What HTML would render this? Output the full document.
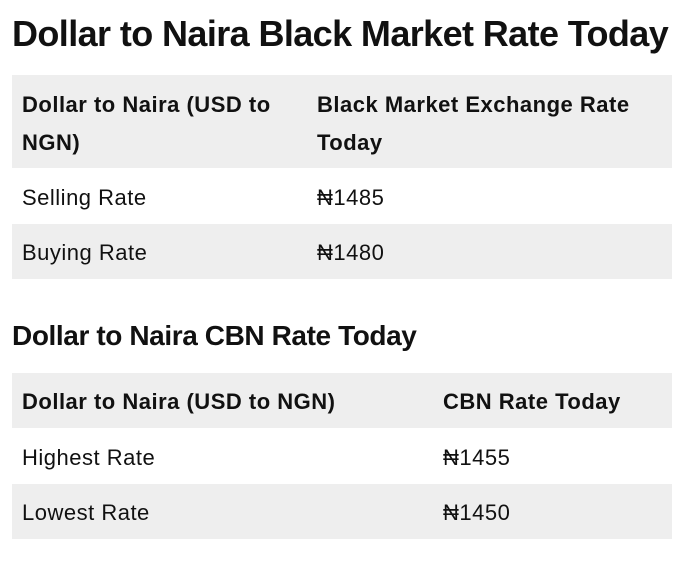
<!DOCTYPE html>
<html><head><meta charset="utf-8"><style>
body{margin:0;width:679px;height:563px;background:#fff;font-family:"Liberation Sans","DejaVu Sans",sans-serif;color:#111;position:relative;overflow:hidden}
.a{position:absolute;white-space:nowrap}
.g{position:absolute;left:12px;width:660px;background:#eeeeee}
h1{position:absolute;margin:0;left:12px;top:13px;font-size:36px;font-weight:bold;letter-spacing:-0.6px}
h2{position:absolute;margin:0;left:12px;top:320px;font-size:28px;font-weight:bold;letter-spacing:-0.4px}
.b{font-weight:bold}
.t{font-size:22px;line-height:38px;letter-spacing:0.5px}
</style></head><body>
<h1>Dollar to Naira Black Market Rate Today</h1>
<div class="g" style="top:75px;height:93px"></div>
<div class="g" style="top:224px;height:55px"></div>
<div class="a t b" style="left:22px;top:86px">Dollar to Naira (USD to<br>NGN)</div>
<div class="a t b" style="left:317px;top:86px">Black Market Exchange Rate<br>Today</div>
<div class="a t" style="left:22px;top:179px">Selling Rate</div>
<div class="a t" style="left:317px;top:179px">₦1485</div>
<div class="a t" style="left:22px;top:234px">Buying Rate</div>
<div class="a t" style="left:317px;top:234px">₦1480</div>
<h2>Dollar to Naira CBN Rate Today</h2>
<div class="g" style="top:373px;height:55px"></div>
<div class="g" style="top:484px;height:55px"></div>
<div class="a t b" style="left:22px;top:383px">Dollar to Naira (USD to NGN)</div>
<div class="a t b" style="left:443px;top:383px">CBN Rate Today</div>
<div class="a t" style="left:22px;top:439px">Highest Rate</div>
<div class="a t" style="left:443px;top:439px">₦1455</div>
<div class="a t" style="left:22px;top:494px">Lowest Rate</div>
<div class="a t" style="left:443px;top:494px">₦1450</div>
</body></html>
